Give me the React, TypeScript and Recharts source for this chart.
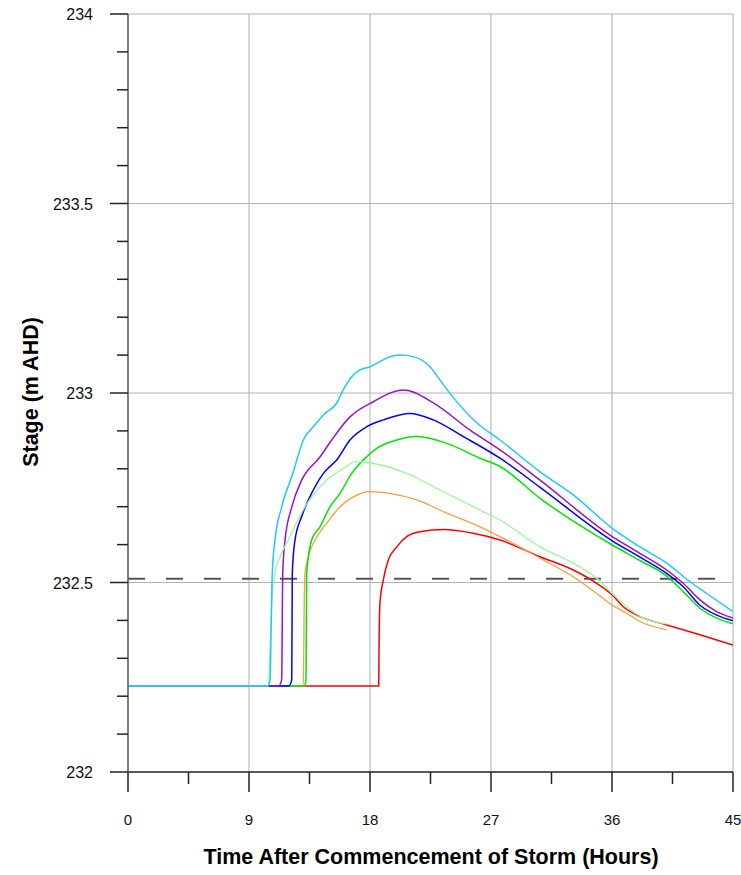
import { LineChart, Line, XAxis, YAxis, ReferenceLine } from 'recharts';

// hours after commencement of storm vs stage (m AHD)
const CYAN: [number, number][] = [
  [0, 232.227], [10.41, 232.227], [10.56, 232.243], [10.73, 232.525], [10.93, 232.612],
  [11.43, 232.699], [12.27, 232.789], [13.04, 232.876], [13.78, 232.911], [14.65, 232.946],
  [15.52, 232.973], [16.01, 233.008], [16.64, 233.043], [17.26, 233.061], [18.0, 233.069],
  [18.5, 233.078], [19.24, 233.092], [20.23, 233.1], [21.22, 233.096], [22.46, 233.069],
  [23.21, 233.034], [23.95, 232.999], [25.96, 232.921], [27.67, 232.876], [30.65, 232.792],
  [33.12, 232.731], [36.02, 232.643], [38.08, 232.594], [40.07, 232.551], [41.8, 232.502],
  [43.05, 232.471], [45.0, 232.423],
];
const PURPLE: [number, number][] = [
  [0, 232.227], [11.2, 232.227], [11.43, 232.243], [11.51, 232.525], [11.68, 232.612],
  [12.18, 232.699], [12.92, 232.77], [14.28, 232.831], [15.15, 232.876], [16.51, 232.937],
  [18.25, 232.977], [20.48, 233.008], [22.71, 232.974], [25.44, 232.902], [27.67, 232.85],
  [30.65, 232.77], [36.02, 232.621], [38.08, 232.577], [40.07, 232.533], [41.3, 232.498],
  [42.54, 232.454], [43.79, 232.423], [45.0, 232.406],
];
const BLUE: [number, number][] = [
  [0, 232.227], [11.95, 232.227], [12.18, 232.243], [12.22, 232.525], [12.42, 232.612],
  [12.92, 232.674], [13.78, 232.744], [14.53, 232.788], [15.52, 232.823], [16.51, 232.876],
  [17.76, 232.911], [18.99, 232.929], [20.98, 232.946], [22.71, 232.929], [24.94, 232.885],
  [27.67, 232.828], [30.65, 232.751], [36.02, 232.61], [38.08, 232.567], [40.07, 232.524],
  [41.3, 232.489], [42.54, 232.44], [43.79, 232.414], [45.0, 232.399],
];
const GREEN: [number, number][] = [
  [0, 232.227], [13.1, 232.227], [13.24, 232.243], [13.29, 232.525], [13.66, 232.612],
  [14.28, 232.647], [15.03, 232.7], [15.77, 232.735], [16.64, 232.788], [17.76, 232.832],
  [18.5, 232.854], [19.99, 232.876], [21.47, 232.885], [23.71, 232.867], [26.18, 232.828],
  [27.67, 232.806], [30.65, 232.722], [36.02, 232.599], [38.08, 232.558], [40.07, 232.517],
  [41.3, 232.476], [42.54, 232.432], [43.79, 232.406], [45.0, 232.391],
];
const LIGHT_GREEN: [number, number][] = [
  [0, 232.227], [10.44, 232.227], [10.56, 232.322], [10.71, 232.454], [10.93, 232.525],
  [11.31, 232.568], [11.92, 232.612], [13.17, 232.7], [14.78, 232.77], [16.27, 232.806],
  [16.89, 232.819], [18.25, 232.814], [20.73, 232.788], [23.21, 232.744], [26.18, 232.691],
  [27.67, 232.665], [30.65, 232.594], [33.12, 232.551], [34.86, 232.511], [36.02, 232.471],
  [37.09, 232.436], [38.33, 232.406], [40.07, 232.391],
];
const ORANGE: [number, number][] = [
  [0, 232.227], [13.04, 232.227], [13.11, 232.454], [13.17, 232.524], [13.41, 232.568],
  [13.91, 232.612], [14.78, 232.656], [15.77, 232.7], [16.76, 232.726], [18.0, 232.74],
  [19.49, 232.735], [21.47, 232.718], [23.71, 232.683], [26.18, 232.647], [27.67, 232.621],
  [30.65, 232.564], [33.12, 232.515], [34.86, 232.471], [36.02, 232.44], [37.09, 232.419],
  [38.08, 232.397], [40.07, 232.375],
];
const RED: [number, number][] = [
  [0, 232.227], [18.65, 232.227], [18.67, 232.322], [18.74, 232.445], [18.99, 232.507],
  [19.36, 232.559], [19.99, 232.594], [20.73, 232.621], [21.72, 232.634], [23.45, 232.64],
  [25.68, 232.63], [27.67, 232.612], [30.65, 232.568], [33.12, 232.533], [34.86, 232.498],
  [36.02, 232.467], [36.84, 232.436], [38.08, 232.41], [40.07, 232.388], [42.54, 232.362],
  [45.0, 232.335],
];

const X_TICKS = [0, 4.5, 9, 13.5, 18, 22.5, 27, 31.5, 36, 40.5, 45];
const X_GRID = [9, 18, 27, 36, 45];
const Y_TICKS = [
  232, 232.1, 232.2, 232.3, 232.4, 232.5, 232.6, 232.7, 232.8, 232.9,
  233, 233.1, 233.2, 233.3, 233.4, 233.5, 233.6, 233.7, 233.8, 233.9, 234,
];
const Y_GRID = [232.5, 233, 233.5, 234];
const THRESHOLD = 232.51;

const SERIES = [
  { name: 'red', data: RED, color: '#ff0000', width: 1.5 },
  { name: 'orange', data: ORANGE, color: '#ff9a3c', width: 1.3 },
  { name: 'green', data: GREEN, color: '#00e600', width: 1.5 },
  { name: 'blue', data: BLUE, color: '#0000ff', width: 1.5 },
  { name: 'purple', data: PURPLE, color: '#9a10cc', width: 1.5 },
  { name: 'lightGreen', data: LIGHT_GREEN, color: '#9cf79c', width: 1.3 },
  { name: 'cyan', data: CYAN, color: '#1ec8ff', width: 1.5 },
];

const FONT = '"Liberation Sans", Arial, sans-serif';

const isMajorX = (v: number) => Number.isInteger(v);
const isMajorY = (v: number) => Math.abs(v * 2 - Math.round(v * 2)) < 1e-6;

function XTick({ x, y, payload }: any) {
  const major = isMajorX(payload.value);
  return (
    <g>
      <line x1={x} x2={x} y1={y} y2={y + (major ? 20 : 12)} stroke="#222" strokeWidth={1.5} />
      {major && (
        <text x={x} y={y + 53} textAnchor="middle" fontSize={15} fontFamily={FONT} fill="#111">
          {payload.value}
        </text>
      )}
    </g>
  );
}

function YTick({ x, y, payload }: any) {
  const major = isMajorY(payload.value);
  return (
    <g>
      <line x1={x - (major ? 18 : 11)} x2={x} y1={y} y2={y} stroke="#222" strokeWidth={1.5} />
      {major && (
        <text x={x - 35} y={y + 6} textAnchor="end" fontSize={16} fontFamily={FONT} fill="#111">
          {Number(payload.value.toFixed(1)).toString()}
        </text>
      )}
    </g>
  );
}

export default function App() {
  return (
    <div style={{ position: 'absolute', left: 0, top: 0, background: '#fff' }}>
      <LineChart width={741} height={875} margin={{ top: 14, right: 8, bottom: 0, left: 0 }}>
        {X_GRID.map((v) => (
          <ReferenceLine key={'x' + v} x={v} stroke="#c8c8c8" strokeWidth={1.5} />
        ))}
        {Y_GRID.map((v) => (
          <ReferenceLine key={'y' + v} y={v} stroke="#b4b4b4" strokeWidth={1.2} />
        ))}
        <XAxis
          type="number"
          dataKey="t"
          domain={[0, 45]}
          ticks={X_TICKS}
          interval={0}
          height={103}
          tickSize={0}
          tickMargin={0}
          tickLine={false}
          axisLine={{ stroke: '#222', strokeWidth: 1.5 }}
          tick={<XTick />}
          allowDataOverflow
          label={() => (
            <text x={431} y={864} textAnchor="middle" fontSize={21.5} fontWeight="bold" fontFamily={FONT} fill="#000">
              Time After Commencement of Storm (Hours)
            </text>
          )}
        />
        <YAxis
          type="number"
          domain={[232, 234]}
          ticks={Y_TICKS}
          interval={0}
          width={128}
          tickSize={0}
          tickMargin={0}
          tickLine={false}
          axisLine={{ stroke: '#555', strokeWidth: 1.5 }}
          tick={<YTick />}
          allowDataOverflow
          label={() => (
            <text
              x={38}
              y={392}
              transform="rotate(-90 38 392)"
              textAnchor="middle"
              fontSize={21.5}
              fontWeight="bold"
              fontFamily={FONT}
              fill="#000"
            >
              Stage (m AHD)
            </text>
          )}
        />
        <ReferenceLine y={THRESHOLD} stroke="#555" strokeWidth={2} strokeDasharray="17 21" />
        {SERIES.map((s) => (
          <Line
            key={s.name}
            data={s.data.map(([t, v]) => ({ t, v }))}
            dataKey="v"
            type="monotone"
            stroke={s.color}
            strokeWidth={s.width}
            dot={false}
            activeDot={false}
            isAnimationActive={false}
          />
        ))}
      </LineChart>
    </div>
  );
}
